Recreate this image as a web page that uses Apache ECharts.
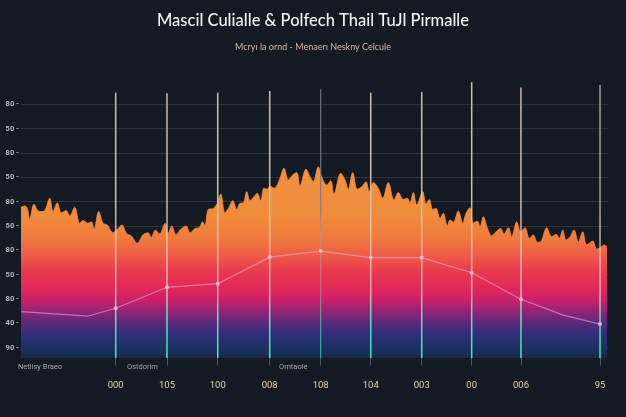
<!DOCTYPE html>
<html>
<head>
<meta charset="utf-8">
<script src="https://cdn.jsdelivr.net/npm/echarts@6/dist/echarts.min.js"></script>
<style>
html,body{margin:0;padding:0;background:#131a23;}
#chart{width:626px;height:417px;}
</style>
</head>
<body>
<div id="chart"></div>
<script>
// ---------- DATA ----------
const titleText = "Mascil Culialle & Polfech Thail TuJl Pirmalle";
const subtitleText = "Mcryı la ornd - Menaerı Neskny Celcule";
// y tick labels, bottom to top
const yTickLabels = ["90","40","80","50","80","50","80","50","80","50","80"];
// vertical marker positions on x scale (0..100), their labels and top values
const markerX = [16.16, 24.91, 33.57, 42.44, 51.14, 59.68, 68.38, 76.91, 85.32, 98.81];
const markerLabels = ["000","105","100","008","108","104","003","00","006","95"];
const markerTop = [10.47, 10.45, 10.47, 10.54, 10.61, 10.47, 10.50, 10.90, 10.69, 10.79];
// jagged area profile
const profileX = [0,0.63,1.08,1.48,2.22,2.78,3.36,4.04,4.90,5.46,6.19,6.88,7.73,8.31,9.16,10.02,10.58,11.43,12.0,12.46,13.26,13.99,14.73,15.70,16.43,17.24,17.97,18.82,19.85,20.82,21.67,22.24,22.92,23.67,24.57,25.14,25.72,26.45,27.13,28.16,28.84,29.69,30.43,31.01,31.40,31.96,32.82,33.50,34.08,34.81,35.38,36.13,36.81,37.37,37.94,38.52,39.08,39.76,40.32,40.90,41.47,42.03,42.49,43.17,43.63,44.20,44.88,45.61,46.36,47.05,47.61,48.63,49.32,49.88,50.73,51.31,52.17,52.85,53.41,54.56,55.29,55.85,56.60,57.39,58.14,58.87,59.44,60.12,60.97,61.72,62.68,63.65,64.39,65.24,65.92,66.38,66.95,67.53,68.55,69.11,69.68,70.26,70.82,71.50,72.06,72.75,73.21,73.77,74.62,75.38,75.94,76.62,77.18,77.87,78.33,78.89,79.57,80.32,81.06,81.86,82.42,83.16,83.74,84.59,85.27,86.01,86.74,87.42,88.11,88.68,89.71,90.56,91.30,91.86,92.44,93.00,93.69,94.37,95.10,95.85,96.54,97.56,98.24,98.92,99.49,100];
const profileY = [5.77,5.82,5.72,5.27,5.90,5.66,5.59,5.63,6.14,5.59,5.95,5.54,5.63,5.41,5.77,5.11,5.22,5.11,5.17,4.86,5.59,5.11,5.04,4.72,4.86,5.04,4.70,4.59,4.29,4.63,4.72,4.53,4.83,4.67,5.11,4.70,5.00,4.63,4.83,5.00,4.72,4.89,4.94,5.17,5.00,5.68,5.72,5.93,6.31,5.54,5.72,6.04,5.68,5.93,5.95,6.41,6.04,6.20,6.34,6.04,6.55,6.51,6.64,6.55,6.64,6.96,7.37,6.89,7.09,7.19,6.64,7.33,7.02,6.82,7.43,7.02,6.68,6.86,6.31,7.16,6.89,6.51,7.19,6.51,6.61,6.82,6.41,6.78,6.55,6.14,6.78,6.07,6.37,6.09,6.14,5.95,6.37,5.86,6.41,5.90,6.09,5.68,5.72,5.31,5.52,5.00,5.24,5.15,5.61,5.11,5.52,5.75,5.11,5.20,4.97,5.38,4.93,4.60,4.76,4.90,4.66,4.93,4.56,5.17,4.76,4.93,4.49,4.63,4.33,4.35,4.93,4.56,4.66,4.49,4.83,4.42,4.56,4.83,4.33,4.76,4.22,4.38,4.05,4.11,4.22,4.15];
// thin trend line
const trendX = [0, 11.48, 16.16, 24.91, 33.57, 42.44, 51.14, 59.68, 68.38, 76.91, 85.32, 92.54, 98.81];
const trendY = [1.48, 1.30, 1.62, 2.48, 2.63, 3.72, 3.97, 3.70, 3.70, 3.08, 1.99, 1.34, 0.97];
// small notes under the axis
const noteLabels = ["Netlisy Braeo", "Ostdorim", "Orntaole"];

// ---------- CHART ----------
const chart = echarts.init(document.getElementById('chart'), null, {renderer: 'canvas'});

const profileData = profileX.map((x, i) => [x, profileY[i]]);
const trendData = trendX.map((x, i) => ({
  value: [x, trendY[i]],
  symbolSize: markerX.indexOf(x) >= 0 ? 4 : 0
}));
const markerData = markerX.map((x, i) => [x, markerTop[i], i]);

function nearestMarker(v) {
  let best = 0, d = Infinity;
  markerX.forEach((m, i) => { const dd = Math.abs(m - v); if (dd < d) { d = dd; best = i; } });
  return best;
}

const option = {
  backgroundColor: '#131a23',
  animation: false,
  graphic: [
    { type: 'text', left: 'center', top: 12,
      style: { text: titleText, fill: '#f2f2f2', font: '500 16.5px Lato' } },
    { type: 'text', left: 'center', top: 43,
      style: { text: subtitleText, fill: '#d2b6ae', font: '9px Lato' } },
    { type: 'text', left: 18, top: 363,
      style: { text: noteLabels[0], fill: '#a9a9a9', font: '7.5px Roboto' } },
    { type: 'text', left: 127, top: 363,
      style: { text: noteLabels[1], fill: '#a9a9a9', font: '7.5px Roboto' } },
    { type: 'text', left: 279, top: 363,
      style: { text: noteLabels[2], fill: '#a9a9a9', font: '7.5px Roboto' } }
  ],
  grid: [
    { left: 21, right: 18, top: 104.3, bottom: 69.3 },
    { left: 21, right: 19, top: 79.85, bottom: 59 }
  ],
  xAxis: [
    { gridIndex: 0, type: 'value', min: 0, max: 1, show: false },
    { gridIndex: 1, type: 'value', min: 0, max: 100,
      axisLine: { show: true, lineStyle: { color: '#3a4450', width: 1 } },
      axisTick: { show: true, customValues: markerX, length: 18, lineStyle: { color: '#4f5862', width: 1 } },
      axisLabel: { show: true, customValues: markerX, margin: 23, color: '#e6d2b8', fontSize: 9.5,
        fontFamily: 'Roboto', formatter: v => markerLabels[nearestMarker(v)] },
      splitLine: { show: false } }
  ],
  yAxis: [
    { gridIndex: 0, type: 'value', min: 0, max: 10, interval: 1,
      axisLine: { show: false }, axisTick: { show: false },
      axisLabel: { show: true, margin: 2, color: '#b9b9b9', fontSize: 7.5, fontWeight: 'bold',
        fontFamily: 'Roboto', formatter: v => yTickLabels[Math.round(v)] + ' -' },
      splitLine: { show: true, lineStyle: { color: '#2c3440', width: 1 } } },
    { gridIndex: 1, type: 'value', min: -0.423, max: 11, show: false, splitLine: { show: false } }
  ],
  series: [
    {
      type: 'line', xAxisIndex: 1, yAxisIndex: 1,
      data: profileData, smooth: 0.35, symbol: 'none',
      lineStyle: { width: 0.8, color: '#ef8d3b' },
      areaStyle: {
        origin: 'start',
        opacity: 1,
        color: { type: 'linear', x: 0, y: 104, x2: 0, y2: 358, global: true,
          colorStops: [
            { offset: 0, color: '#f39642' },
            { offset: 0.44, color: '#f08c3c' },
            { offset: 0.53, color: '#ef7a3e' },
            { offset: 0.595, color: '#ee5c46' },
            { offset: 0.66, color: '#e8394e' },
            { offset: 0.725, color: '#e02858' },
            { offset: 0.775, color: '#c8206a' },
            { offset: 0.82, color: '#8e2474' },
            { offset: 0.865, color: '#552a7c' },
            { offset: 0.91, color: '#2e2f78' },
            { offset: 0.955, color: '#1c3064' },
            { offset: 1, color: '#15294a' }
          ] }
      },
      z: 2
    },
    {
      type: 'custom', xAxisIndex: 1, yAxisIndex: 1,
      data: markerData,
      renderItem: function (params, api) {
        const top = api.coord([api.value(0), api.value(1)]);
        const bot = api.coord([api.value(0), -0.423]);
        const idx = api.value(2);
        const dim = (idx === 4);
        const grayTop = (idx === 4 || idx === 9);
        const topColor = dim ? 'rgba(110,122,136,0.9)' : (grayTop ? 'rgba(170,165,155,0.95)' : 'rgba(214,198,172,0.95)');
        const midColor = dim ? 'rgba(170,150,160,0.6)' : 'rgba(246,206,196,0.8)';
        return {
          type: 'line',
          shape: { x1: top[0], y1: top[1], x2: bot[0], y2: bot[1] },
          style: {
            lineWidth: dim ? 1.2 : 1.5,
            stroke: { type: 'linear', x: 0, y: 80, x2: 0, y2: 358, global: true,
              colorStops: [
                { offset: 0, color: topColor },
                { offset: 0.45, color: topColor },
                { offset: 0.55, color: midColor },
                { offset: 0.76, color: midColor },
                { offset: 0.83, color: dim ? 'rgba(80,200,170,0.7)' : 'rgba(110,225,195,0.95)' },
                { offset: 1, color: dim ? 'rgba(60,210,170,0.8)' : 'rgba(64,232,178,1)' }
              ] }
          }
        };
      },
      z: 3
    },
    {
      type: 'line', xAxisIndex: 1, yAxisIndex: 1,
      data: trendData, smooth: false, symbol: 'circle',
      lineStyle: { width: 1.2, color: 'rgba(238,168,218,0.6)' },
      itemStyle: { color: 'rgba(246,190,215,0.85)' },
      z: 4
    }
  ]
};
chart.setOption(option);
</script>
</body>
</html>
